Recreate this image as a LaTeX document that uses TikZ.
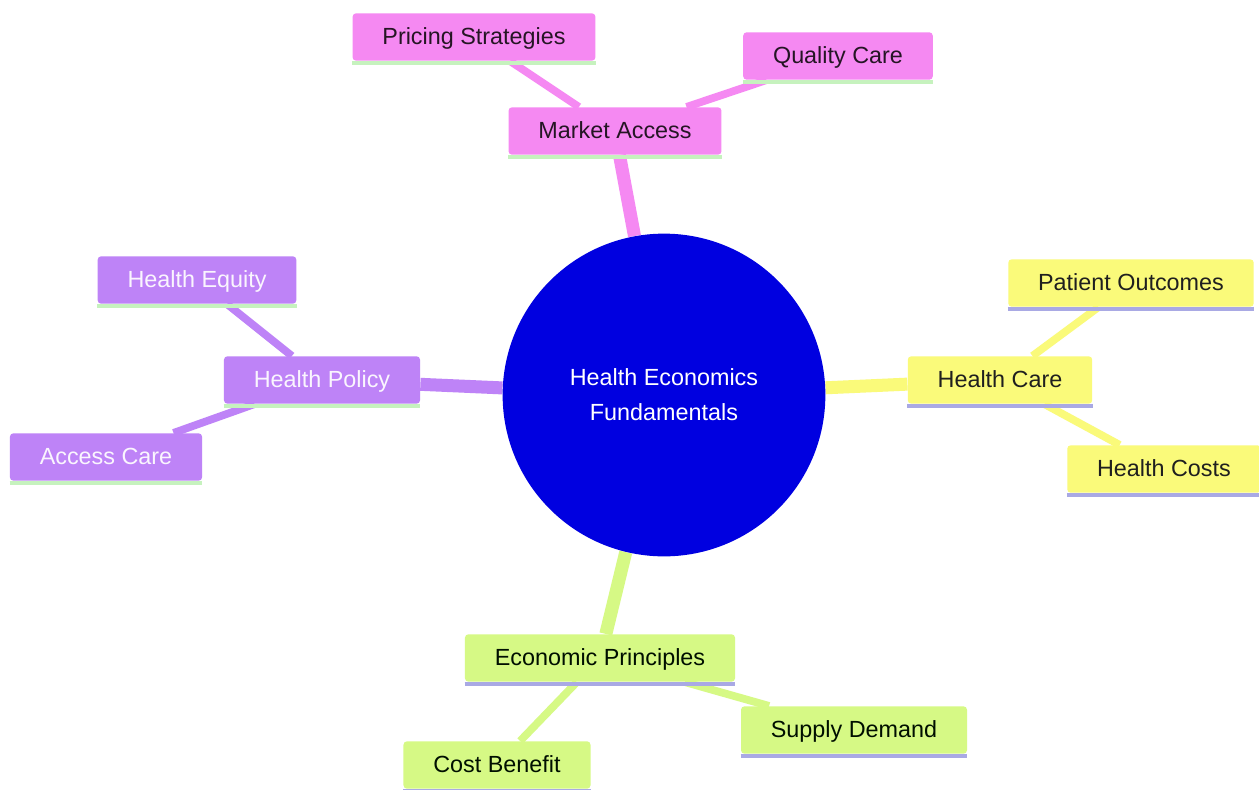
\documentclass[tikz,border=0pt]{standalone}
\usepackage{fontspec}
\setmainfont{Liberation Sans}
\usetikzlibrary{backgrounds}

\definecolor{rootblue}{HTML}{0000E0}
\definecolor{pinkfill}{HTML}{F589F2}
\definecolor{lilacfill}{HTML}{BE83F7}
\definecolor{yellowfill}{HTML}{FAFA7A}
\definecolor{greenfill}{HTML}{D6F985}
\definecolor{ulgreen}{HTML}{C6F2BE}
\definecolor{ullavender}{HTML}{A9A9E4}

\tikzset{
    topic/.style={rounded corners=2pt, inner xsep=17pt, minimum height=27pt,
        text height=11.6pt, text depth=2.7pt, font=\fontsize{13.3}{16}\selectfont},
    pinkbox/.style={topic, fill=pinkfill, text=black!85!pinkfill},
    lilacbox/.style={topic, fill=lilacfill, text=white!92!lilacfill},
    yellowbox/.style={topic, fill=yellowfill, text=black!88},
    greenbox/.style={topic, fill=greenfill, text=black!85!green!40!black},
    trunk/.style={line width=7.4pt},
    twig/.style={line width=4.4pt}
}

\begin{document}
\begin{tikzpicture}[x=0.02cm,y=-0.02cm]
            \useasboundingbox (0,0) rectangle (1259,789);

            \node[circle, fill=rootblue, minimum size=183.7pt, inner sep=0pt, text=white,
                align=center, font=\fontsize{13.3}{19.8}\selectfont] (root) at (664,395)
                {Health Economics\\Fundamentals};

            %market access branch
            \node[pinkbox] (market) at (615,131) {Market Access};
            \node[pinkbox] (pricing) at (474,37) {Pricing Strategies};
            \node[pinkbox] (quality) at (838,56) {Quality Care};

            %health policy branch
            \node[lilacbox] (policy) at (322,380) {Health Policy};
            \node[lilacbox] (equity) at (197,280) {Health Equity};
            \node[lilacbox] (access) at (106,457) {Access Care};

            %health care branch
            \node[yellowbox] (care) at (1000,380) {Health Care};
            \node[yellowbox] (outcomes) at (1131,283) {Patient Outcomes};
            \node[yellowbox] (costs) at (1164,469) {Health Costs};

            %economic principles branch
            \node[greenbox] (econ) at (600,658) {Economic Principles};
            \node[greenbox] (benefit) at (497,765) {Cost Benefit};
            \node[greenbox] (supply) at (854,730) {Supply Demand};

            %underlines
            \foreach \n in {market,pricing,quality,policy,equity,access}
                \draw[ulgreen, line width=2pt] ([yshift=-1pt]\n.south west) -- ([yshift=-1pt]\n.south east);
            \foreach \n in {care,outcomes,costs,econ,benefit,supply}
                \draw[ullavender, line width=2pt] ([yshift=-1pt]\n.south west) -- ([yshift=-1pt]\n.south east);

            \begin{scope}[on background layer]
                \fill[white] (0,0) rectangle (1259,789);

                \draw[trunk, pinkfill] (root) -- (market);
                \draw[twig, pinkfill] (market) -- (pricing);
                \draw[twig, pinkfill] (market) -- (quality);

                \draw[trunk, lilacfill] (root) -- (policy);
                \draw[twig, lilacfill] (policy) -- (equity);
                \draw[twig, lilacfill] (policy) -- (access);

                \draw[trunk, yellowfill] (root) -- (care);
                \draw[twig, yellowfill] (care) -- (outcomes);
                \draw[twig, yellowfill] (care) -- (costs);

                \draw[trunk, greenfill] (root) -- (econ);
                \draw[twig, greenfill] (econ) -- (benefit);
                \draw[twig, greenfill] (econ) -- (supply);
            \end{scope}
        \end{tikzpicture}
\end{document}
